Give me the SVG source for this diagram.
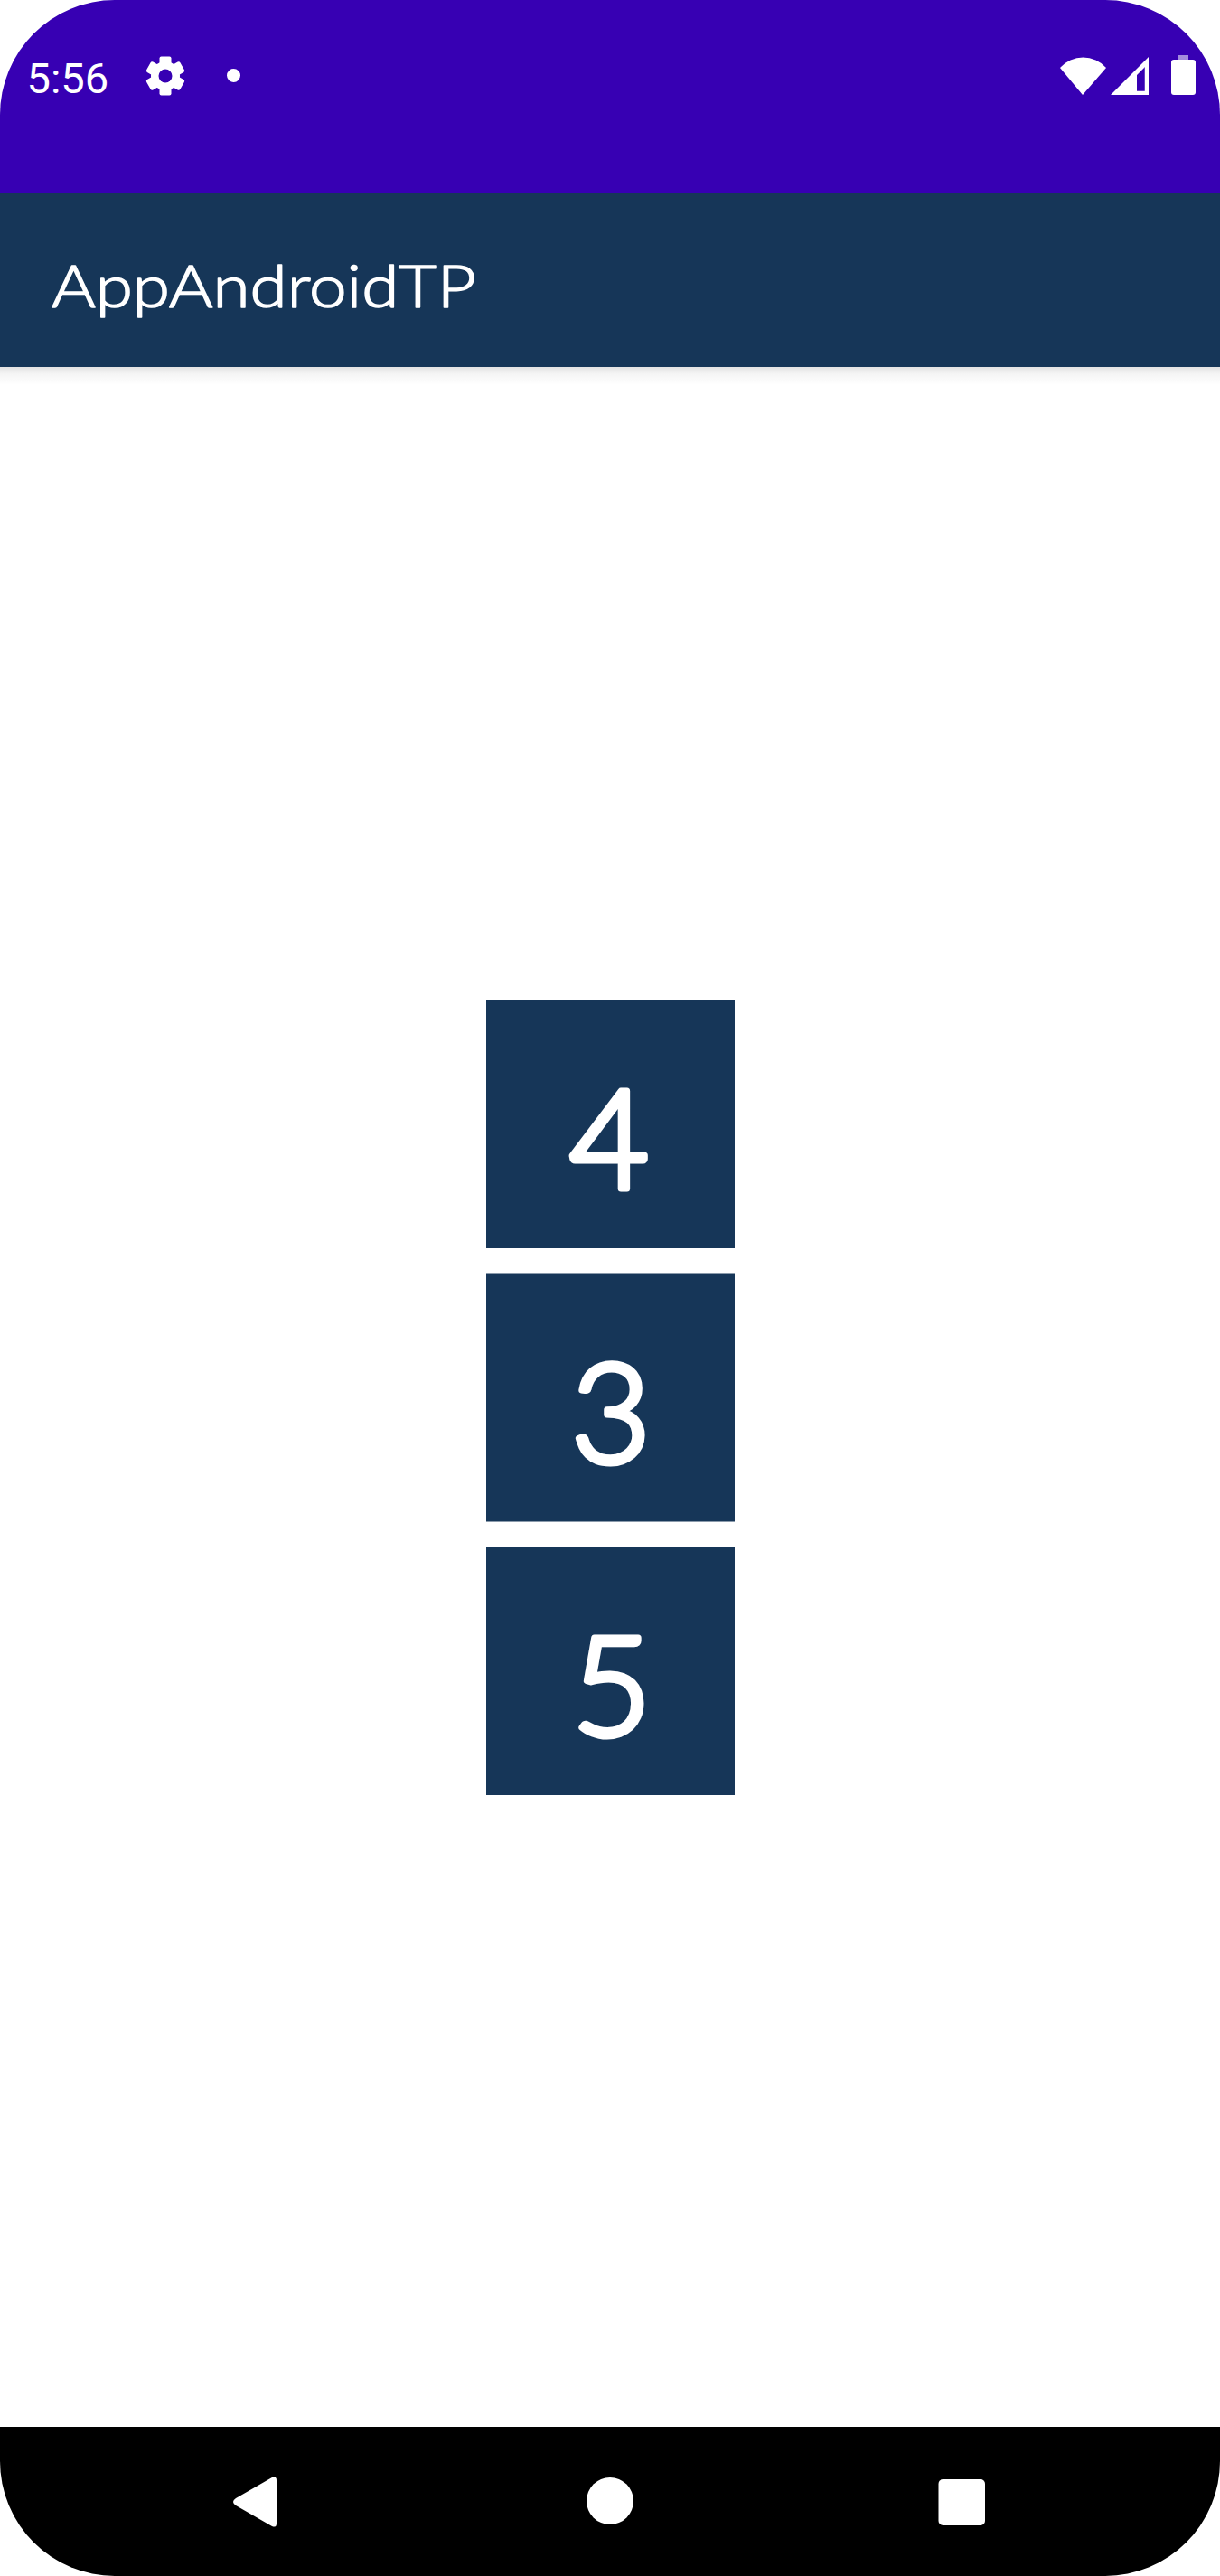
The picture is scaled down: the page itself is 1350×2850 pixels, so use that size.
<svg xmlns="http://www.w3.org/2000/svg" width="1350" height="2850" viewBox="0 0 1350 2850">
<defs>
<linearGradient id="sh" x1="0" y1="0" x2="0" y2="1"><stop offset="0" stop-color="#000" stop-opacity="0.11"/><stop offset="0.4" stop-color="#000" stop-opacity="0.04"/><stop offset="1" stop-color="#000" stop-opacity="0"/></linearGradient>
</defs>
<style>
.b{fill:#163658}
.w{fill:#fff}
.d{font-family:"Lato","Open Sans",sans-serif;font-size:152px;font-weight:300;fill:#fff;stroke:#fff;stroke-width:7;stroke-linejoin:round;text-anchor:middle}
.t{font-family:"Lato","Open Sans",sans-serif;font-size:65px;font-weight:300;fill:#fff;stroke:#fff;stroke-width:1.5;stroke-linejoin:round}
.c{font-family:"Roboto",sans-serif;font-size:47px;fill:#fff}
</style>
<rect width="1350" height="2850" fill="#fff"/>
<g id="status-bar">
<path fill="#3700B3" d="M0 214V127A127 127 0 0 1 127 0H1223A127 127 0 0 1 1350 127V214Z"/>
<text class="c" x="29.500" y="103">5:56</text>
<g id="gear" transform="translate(183 84)">
<circle class="w" r="16"/>
<g class="w"><rect x="-6.500" y="-21.500" width="13" height="43" rx="2"/><rect x="-6.500" y="-21.500" width="13" height="43" rx="2" transform="rotate(60)"/><rect x="-6.500" y="-21.500" width="13" height="43" rx="2" transform="rotate(120)"/></g>
<circle r="7.500" fill="#3700B3"/>
</g>
<circle class="w" cx="258.500" cy="83.500" r="7.500"/>
<path id="wifi" class="w" d="M1173 75A34 34 0 0 1 1224 75L1198 105Z"/>
<g id="signal">
<path class="w" fill-rule="evenodd" d="M1229 105L1271 63V105ZM1267 74L1258 83V101H1267Z"/>
<path d="M1258 101H1267V74" fill="none" stroke="#fff" stroke-opacity="0.5" stroke-width="1"/>
</g>
<g id="battery">
<rect x="1304" y="61" width="11" height="6" fill="#fff" opacity="0.55"/>
<rect class="w" x="1296" y="66" width="27" height="39" rx="3"/>
</g>
</g>
<g id="toolbar">
<rect y="406" width="1350" height="20" fill="url(#sh)"/>
<rect class="b" y="214" width="1350" height="192"/>
<text class="t" x="57" y="340" textLength="470" lengthAdjust="spacingAndGlyphs">AppAndroidTP</text>
</g>
<g id="box-4"><rect class="b" x="538" y="1106" width="275" height="275"/><text class="d" x="674" y="1315">4</text></g>
<g id="box-3"><rect class="b" x="538" y="1408.500" width="275" height="275"/><text class="d" x="676" y="1618">3</text></g>
<g id="box-5"><rect class="b" x="538" y="1711" width="275" height="275"/><text class="d" x="677" y="1920">5</text></g>
<g id="nav-bar">
<path fill="#000" d="M0 2685H1350V2723A127 127 0 0 1 1223 2850H127A127 127 0 0 1 0 2723Z"/>
<path class="w" d="M301 2741Q306 2739 306 2744V2792Q306 2797 301 2795L261 2772Q255 2768 261 2764Z"/>
<circle class="w" cx="675" cy="2767" r="26"/>
<rect class="w" x="1038.500" y="2743" width="51.500" height="51" rx="5"/>
</g>
<g id="connectors"></g>
</svg>
